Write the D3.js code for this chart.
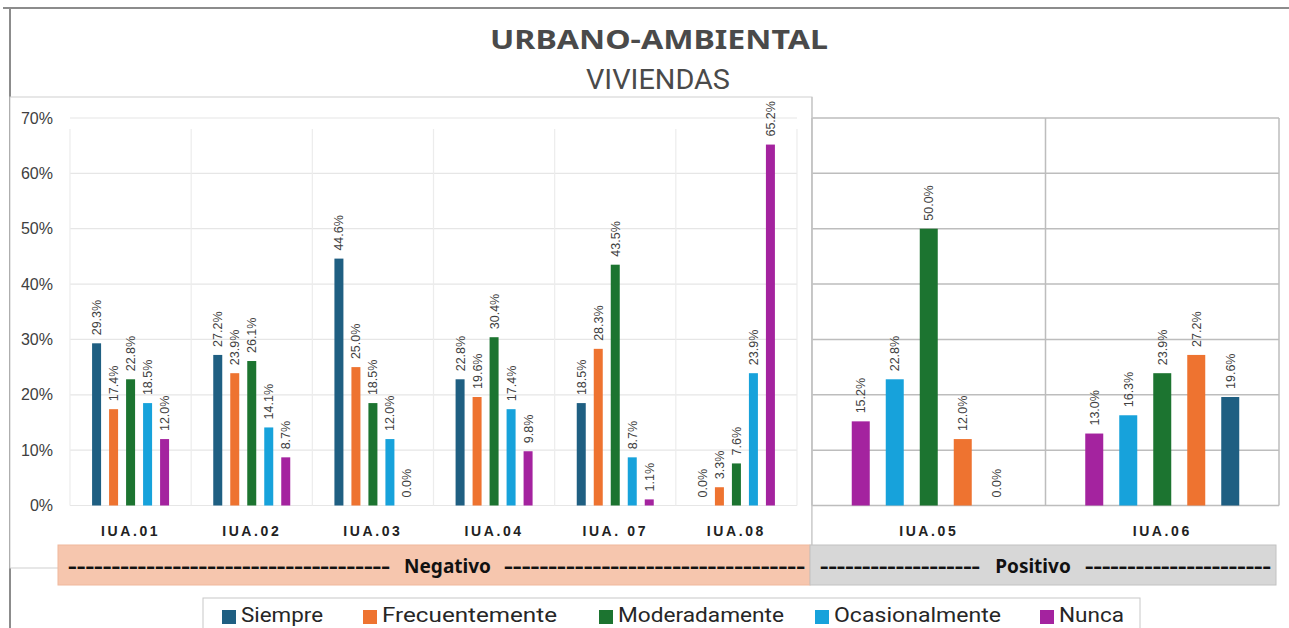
<!DOCTYPE html>
<html><head><meta charset="utf-8">
<script src="https://cdn.jsdelivr.net/npm/d3@7"></script>
<style>html,body{margin:0;padding:0;background:#fff;overflow:hidden}svg{display:block}</style>
</head><body>
<svg id="chart" width="1289" height="628"></svg>
<script>
// ---------- DATA ----------
const categories = ["IUA.01","IUA.02","IUA.03","IUA.04","IUA. 07","IUA.08","IUA.05","IUA.06"];
const negCategories = ["IUA.01","IUA.02","IUA.03","IUA.04","IUA. 07","IUA.08"];
const posCategories = ["IUA.05","IUA.06"];
const seriesNames = ["Siempre","Frecuentemente","Moderadamente","Ocasionalmente","Nunca"];
const siempre        = [29.3, 27.2, 44.6, 22.8, 18.5,  0.0,  0.0, 19.6];
const frecuentemente = [17.4, 23.9, 25.0, 19.6, 28.3,  3.3, 12.0, 27.2];
const moderadamente  = [22.8, 26.1, 18.5, 30.4, 43.5,  7.6, 50.0, 23.9];
const ocasionalmente = [18.5, 14.1, 12.0, 17.4,  8.7, 23.9, 22.8, 16.3];
const nunca          = [12.0,  8.7,  0.0,  9.8,  1.1, 65.2, 15.2, 13.0];
const yTicks = [0, 10, 20, 30, 40, 50, 60, 70];
const seriesColors = ["#1f5f82", "#ee7330", "#1c7430", "#17a2db", "#a4239f"];
const title = "URBANO-AMBIENTAL";
const subtitle = "VIVIENDAS";
const groupLabels = ["Negativo", "Positivo"];

// ---------- BUILD ----------
const seriesValues = [siempre, frecuentemente, moderadamente, ocasionalmente, nunca];
const rows = categories.map((c, i) => ({cat: c, vals: seriesNames.map((s, j) => ({s, j, v: seriesValues[j][i]}))}));
const byCat = new Map(rows.map(r => [r.cat, r]));

const svg = d3.select("#chart");
const fmt = d3.format(".1f");
const textCol = "#404040";

// outer frame
svg.append("line").attr("x1", 3).attr("x2", 1289).attr("y1", 8).attr("y2", 8).attr("stroke", "#8c8c8c").attr("stroke-width", 2);
svg.append("line").attr("x1", 10).attr("x2", 10).attr("y1", 8).attr("y2", 628).attr("stroke", "#8c8c8c").attr("stroke-width", 2);

// title
svg.append("text").attr("x", 659).attr("y", 49).attr("text-anchor", "middle")
  .attr("font-family", "'Noto Sans', 'Liberation Sans', sans-serif").attr("font-weight", 700)
  .attr("font-size", 27).attr("fill", "#4a4a4a").attr("textLength", 338).attr("lengthAdjust", "spacingAndGlyphs")
  .text(title);
svg.append("text").attr("x", 658).attr("y", 89).attr("text-anchor", "middle")
  .attr("font-family", "'Liberation Sans Narrow', 'Roboto', sans-serif")
  .attr("font-size", 28).attr("fill", "#4a4a4a").attr("textLength", 144).attr("lengthAdjust", "spacingAndGlyphs")
  .text(subtitle);

// y scale shared
const y = d3.scaleLinear().domain([0, 70]).range([505.5, 118]);

// ---------- LEFT PANEL ----------
svg.append("rect").attr("x", 10).attr("y", 97).attr("width", 802).attr("height", 471)
  .attr("fill", "#fff").attr("stroke", "#cfcfcf").attr("stroke-width", 1);

const xNeg = d3.scaleBand().domain(negCategories).range([70, 797]);
const inner = d3.scalePoint().domain(seriesNames).range([-34, 34]);

const gL = svg.append("g");
gL.selectAll("line.hg").data(yTicks).join("line")
  .attr("x1", 70).attr("x2", 797).attr("y1", d => y(d)).attr("y2", d => y(d))
  .attr("stroke", "#e6e6e6").attr("stroke-width", 1.2);
const negEdges = negCategories.map(c => xNeg(c)).concat([xNeg.range()[1]]);
gL.selectAll("line.vg").data(negEdges).join("line")
  .attr("x1", d => d).attr("x2", d => d).attr("y1", y(68)).attr("y2", y(0))
  .attr("stroke", "#ececec").attr("stroke-width", 1.2);

// y axis labels
const yAxis = d3.axisLeft(y).tickValues(yTicks).tickFormat(d => d + "%").tickSize(0).tickPadding(0);
const ga = svg.append("g").attr("transform", "translate(53,0)").call(yAxis);
ga.select(".domain").remove();
ga.selectAll("text").attr("font-family", "'Liberation Sans', Arial, sans-serif").attr("font-size", 16).attr("fill", textCol);

function drawGroup(g, xScale, cats, order, inr, bw) {
  cats.forEach(c => {
    const r = byCat.get(c);
    const cx = xScale(c) + xScale.bandwidth() / 2;
    const vals = order.map(s => r.vals.find(v => v.s === s));
    g.selectAll(null).data(vals).join("rect")
      .attr("x", d => cx + inr(d.s) - bw / 2).attr("width", bw)
      .attr("y", d => y(d.v)).attr("height", d => y(0) - y(d.v))
      .attr("fill", d => seriesColors[d.j]);
    g.selectAll(null).data(vals).join("text")
      .attr("transform", d => `translate(${cx + inr(d.s) + 4.5},${y(d.v) - 8}) rotate(-90)`)
      .attr("font-family", "'Liberation Sans', Arial, sans-serif").attr("font-size", 12.5).attr("fill", textCol)
      .text(d => fmt(d.v) + "%");
    g.append("text").attr("x", cx).attr("y", 536).attr("text-anchor", "middle")
      .attr("font-family", "'Liberation Sans', Arial, sans-serif").attr("font-weight", 700).attr("font-size", 14)
      .attr("letter-spacing", 2.6).attr("fill", "#222").text(c);
  });
}
drawGroup(gL, xNeg, negCategories, seriesNames, inner, 9);

// ---------- RIGHT PANEL ----------
svg.append("rect").attr("x", 812).attr("y", 117).attr("width", 467).attr("height", 428).attr("fill", "#fff");
const xPos = d3.scaleBand().domain(posCategories).range([812, 1279]);
const gR = svg.append("g");
gR.selectAll("line.hg").data(yTicks).join("line")
  .attr("x1", 812).attr("x2", 1279).attr("y1", d => y(d)).attr("y2", d => y(d))
  .attr("stroke", "#bdbdbd").attr("stroke-width", 1.5);
const posEdges = posCategories.map(c => xPos(c)).concat([xPos.range()[1]]);
gR.selectAll("line.vg").data(posEdges).join("line")
  .attr("x1", d => d).attr("x2", d => d).attr("y1", y(70)).attr("y2", y(0))
  .attr("stroke", "#bdbdbd").attr("stroke-width", 1.5);
gR.append("line").attr("x1", 812).attr("x2", 812).attr("y1", 97).attr("y2", 545).attr("stroke", "#c4c4c4").attr("stroke-width", 1.2);
const innerR = d3.scalePoint().domain(seriesNames.slice().reverse()).range([-68, 68]);
drawGroup(gR, xPos, posCategories, seriesNames.slice().reverse(), innerR, 18);

// ---------- GROUP BANDS ----------
function band(x0, x1, fill, stroke, word, leftN, rightN, wordX0, wordX1) {
  svg.append("rect").attr("x", x0).attr("y", 545).attr("width", x1 - x0).attr("height", 40)
    .attr("fill", fill).attr("stroke", stroke).attr("stroke-width", 1);
  const f = "'Noto Sans', 'Liberation Sans', sans-serif";
  svg.append("text").attr("x", x0 + 10).attr("y", 573).attr("font-family", f).attr("font-weight", 700).attr("font-size", 19)
    .attr("fill", "#111").attr("textLength", wordX0 - x0 - 18).attr("lengthAdjust", "spacingAndGlyphs").text("-".repeat(leftN));
  svg.append("text").attr("x", (wordX0 + wordX1) / 2).attr("y", 573).attr("text-anchor", "middle").attr("font-family", f)
    .attr("font-weight", 700).attr("font-size", 19).attr("fill", "#111").text(word);
  svg.append("text").attr("x", wordX1 + 7).attr("y", 573).attr("font-family", f).attr("font-weight", 700).attr("font-size", 19)
    .attr("fill", "#111").attr("textLength", x1 - wordX1 - 12).attr("lengthAdjust", "spacingAndGlyphs").text("-".repeat(rightN));
}
band(58, 810, "#f6c6ae", "#f0b89c", groupLabels[0], 37, 34, 398, 497);
band(810, 1276, "#d7d7d7", "#c2c2c2", groupLabels[1], 19, 22, 988, 1078);

// ---------- LEGEND ----------
const legendX = [222, 363, 599, 815, 1040];
const legendW = [82, 175, 166, 167, 65];
const legend = svg.append("g");
legend.append("rect").attr("x", 203).attr("y", 598).attr("width", 937).attr("height", 50)
  .attr("fill", "#fff").attr("stroke", "#c8c8c8").attr("stroke-width", 1);
seriesNames.forEach((s, i) => {
  legend.append("rect").attr("x", legendX[i]).attr("y", 610).attr("width", 14).attr("height", 14).attr("fill", seriesColors[i]);
  legend.append("text").attr("x", legendX[i] + 19).attr("y", 622)
    .attr("font-family", "'Roboto', 'Liberation Sans', sans-serif").attr("font-size", 21).attr("fill", "#262626")
    .attr("textLength", legendW[i]).attr("lengthAdjust", "spacingAndGlyphs").text(s);
});
</script>
</body></html>
